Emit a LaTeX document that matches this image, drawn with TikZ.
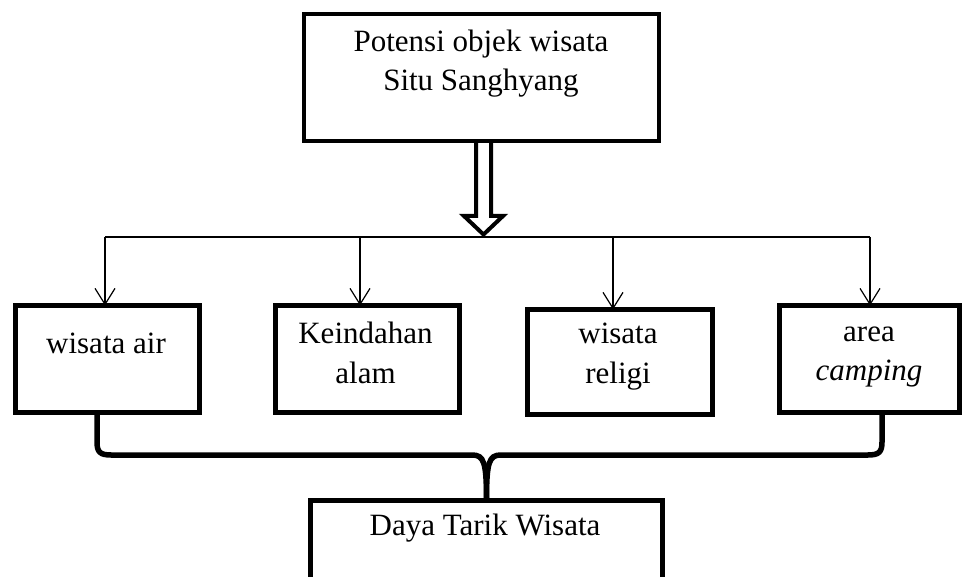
\documentclass[tikz,border=0pt]{standalone}
\usepackage{fontspec}
\setmainfont{Liberation Serif}
\usetikzlibrary{arrows.meta,calc}
\begin{document}
\begin{tikzpicture}[x=1pt,y=-1pt,
  boxthick/.style={draw=black,line width=4.5pt,inner sep=0pt,outer sep=0pt,fill=white},
  boxtext/.style={anchor=base,align=center,inner sep=0pt,font=\fontsize{31pt}{39.5pt}\selectfont},
  thinline/.style={draw=black,line width=1.2pt},
  thinarrow/.style={thinline,-{Straight Barb[length=16pt,width=20pt,line width=1.2pt]}},
  bigarrow/.style={draw=black,line width=4pt,miter limit=10},
  bracepath/.style={draw=black,line width=5.5pt,line cap=butt}]
\useasboundingbox (0,0) rectangle (964,577);
\fill[white] (0,0) rectangle (964,577);
% boxes
\node[boxthick,minimum width=355pt,minimum height=127pt] (top) at (481.5,77.5) {};
\node[boxthick,minimum width=184pt,minimum height=107pt] (b1) at (107.5,359) {};
\node[boxthick,minimum width=184pt,minimum height=107pt] (b2) at (367.5,359) {};
\node[boxthick,minimum width=185pt,minimum height=105pt] (b3) at (620,362) {};
\node[boxthick,minimum width=180pt,minimum height=107pt] (b4) at (869.5,359) {};
\node[boxthick,minimum width=352pt,minimum height=120pt] (bot) at (486.5,560.5) {};
% texts (base anchor = baseline of last line)
\node[boxtext] (topt) at (481,91) {Potensi objek wisata\\Situ Sanghyang};
\node[boxtext] (b1t) at (106,354) {wisata air};
\node[boxtext] (b2t) at (365.5,383) {Keindahan\\alam};
\node[boxtext] (b3t) at (618,383) {wisata\\religi};
\node[boxtext] (b4t) at (869,381) {area\\\textit{camping}};
\node[boxtext] (bott) at (485,535) {Daya Tarik Wisata};
% hollow arrow
\coordinate (hub) at (483.5,237);
\path[bigarrow] ($(top.south -| hub)+(-7.5,0)$) -- ($(hub)+(-7.5,-21)$) -- ($(hub)+(-19.5,-21)$)
  -- ($(hub)+(0,-2.5)$) -- ($(hub)+(19.5,-21)$) -- ($(hub)+(7.5,-21)$) -- ($(top.south -| hub)+(7.5,0)$);
% distribution line
\coordinate (t1) at (105,237);
\coordinate (t2) at (360,237);
\coordinate (t3) at (613,237);
\coordinate (t4) at (870,237);
\path[thinline] (t1) -- (t4);
\path[thinarrow] (t1) -- (t1 |- b1.north);
\path[thinarrow] (t2) -- (t2 |- b2.north);
\path[thinarrow] (t3) -- (t3 |- b3.north);
\path[thinarrow] (t4) -- (t4 |- b4.north);
% brace
\coordinate (bl) at (97,415);
\coordinate (br) at (882,415);
\path[bracepath] (bl) -- (97,442) .. controls (97,452) and (100,455) .. (111,455) -- (472,455)
  .. controls (484,455) and (486.5,462) .. (bot.north);
\path[bracepath] (br) -- (882,442) .. controls (882,452) and (879,455) .. (868,455) -- (501,455)
  .. controls (489,455) and (486.5,462) .. (bot.north);
\end{tikzpicture}
\end{document}
